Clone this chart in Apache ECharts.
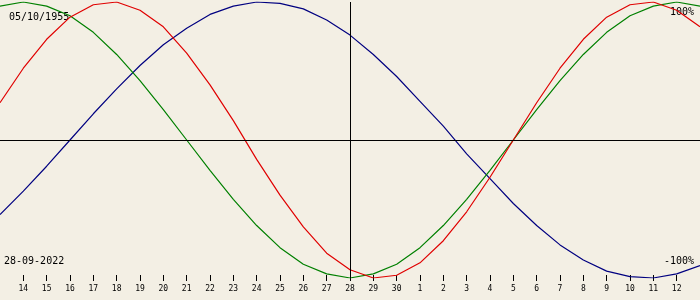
<!DOCTYPE html>
<html>
<head>
<meta charset="utf-8">
<style>html,body{margin:0;padding:0;background:#f3efe4;}#c{width:700px;height:300px;}</style>
<script src="https://cdn.jsdelivr.net/npm/echarts@6/dist/echarts.min.js"></script>
</head>
<body>
<div id="c"></div>
<script>
// Days 13 Sep .. 13 Oct (first and last are off-axis edge points)
var days = ['13','14','15','16','17','18','19','20','21','22','23','24','25','26','27','28','29','30','1','2','3','4','5','6','7','8','9','10','11','12','13'];
var todayIndex = 15;
var birthLabel = '05/10/1955';
var todayLabel = '28-09-2022';
var topLabel = '100%';
var bottomLabel = '-100%';
// Physical (red)
var physical = [0.27,0.52,0.73,0.89,0.98,1.00,0.94,0.82,0.63,0.40,0.14,-0.14,-0.40,-0.63,-0.82,-0.94,-1.00,-0.98,-0.89,-0.73,-0.52,-0.27,0.00,0.27,0.52,0.73,0.89,0.98,1.00,0.94,0.82];
// Emotional (green)
var emotional = [0.97,1.00,0.97,0.90,0.78,0.62,0.43,0.22,0.00,-0.22,-0.43,-0.62,-0.78,-0.90,-0.97,-1.00,-0.97,-0.90,-0.78,-0.62,-0.43,-0.22,0.00,0.22,0.43,0.62,0.78,0.90,0.97,1.00,0.97];
// Intellectual (blue)
var intellectual = [-0.54,-0.37,-0.19,0.00,0.19,0.37,0.54,0.69,0.81,0.91,0.97,1.00,0.99,0.95,0.87,0.76,0.62,0.46,0.28,0.10,-0.10,-0.28,-0.46,-0.62,-0.76,-0.87,-0.95,-0.99,-1.00,-0.97,-0.91];

var chart = echarts.init(document.getElementById('c'));
var mono = 'DejaVu Sans Mono';
function lineSeries(name, data, color, extra) {
  var s = {
    name: name, type: 'line', data: data, symbol: 'none', smooth: false,
    lineStyle: { color: color, width: 1.2 }, animation: false, silent: true
  };
  if (extra) s.markLine = extra;
  return s;
}
var edge = function (idx) { return idx > 0 && idx < days.length - 1; };
chart.setOption({
  backgroundColor: '#f3efe4',
  animation: false,
  grid: { left: 0, right: 0, top: 2, bottom: 22 },
  xAxis: {
    type: 'category', data: days, boundaryGap: false, offset: -3,
    axisLine: { show: false, onZero: false },
    axisTick: { show: true, length: 6, interval: edge, lineStyle: { color: '#000' } },
    axisLabel: { interval: edge, margin: 10, fontFamily: mono, fontSize: 8, color: '#000' },
    splitLine: { show: false }
  },
  yAxis: { type: 'value', min: -1, max: 1, show: false, splitLine: { show: false } },
  series: [
    lineSeries('Intellectual', intellectual, '#000080', {
      symbol: 'none', silent: true, animation: false, label: { show: false },
      lineStyle: { color: '#000', type: 'solid', width: 1 },
      data: [{ yAxis: 0 }, { xAxis: todayIndex }]
    }),
    lineSeries('Emotional', emotional, '#008000'),
    lineSeries('Physical', physical, '#e00000')
  ],
  graphic: [
    { type: 'text', left: 9, top: 12, style: { text: birthLabel, font: '10px "' + mono + '"', fill: '#000' } },
    { type: 'text', left: 4, top: 256, style: { text: todayLabel, font: '10px "' + mono + '"', fill: '#000' } },
    { type: 'text', right: 6, top: 7, style: { text: topLabel, font: '10px "' + mono + '"', fill: '#000' } },
    { type: 'text', right: 6, top: 256, style: { text: bottomLabel, font: '10px "' + mono + '"', fill: '#000' } }
  ]
});
</script>
</body>
</html>
